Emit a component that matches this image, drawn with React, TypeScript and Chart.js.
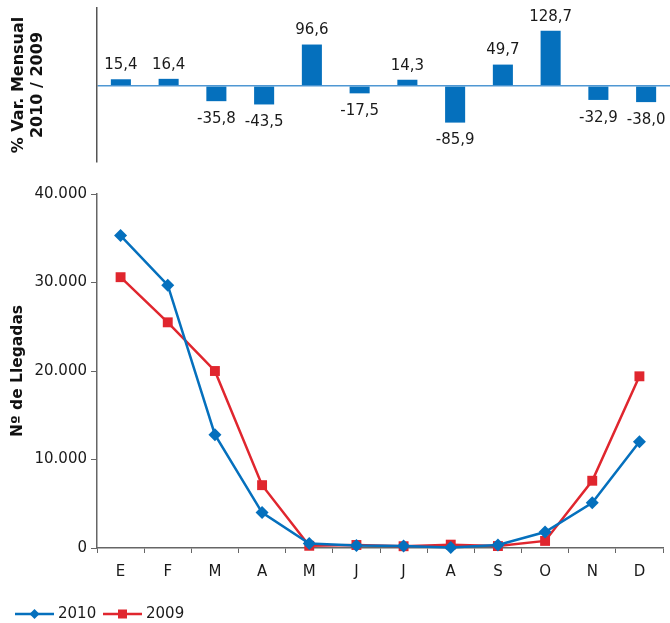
import React, { useEffect, useRef } from "react";
import { Chart, registerables } from "chart.js";

Chart.register(...registerables);

const months = ["E", "F", "M", "A", "M", "J", "J", "A", "S", "O", "N", "D"];
const variation = [15.4, 16.4, -35.8, -43.5, 96.6, -17.5, 14.3, -85.9, 49.7, 128.7, -32.9, -38.0];
const arrivals2010 = [35300, 29700, 12800, 4000, 500, 280, 230, 50, 330, 1800, 5100, 12000];
const arrivals2009 = [30600, 25500, 20000, 7100, 250, 340, 200, 380, 220, 800, 7600, 19400];
const yTicks = [0, 10000, 20000, 30000, 40000];
const seriesNames = ["2010", "2009"];

const BLUE = "#0570bd";
const RED = "#e0262e";
const FONT = "'DejaVu Sans', Verdana, sans-serif";

function fmtNum(v: number): string {
  return Math.round(v).toString().replace(/\B(?=(\d{3})+(?!\d))/g, ".");
}
function fmtPct(v: number): string {
  return v.toFixed(1).replace(".", ",");
}

const barLabelPlugin = {
  id: "barLabels",
  afterDatasetsDraw(chart: any) {
    const ctx = chart.ctx;
    const meta = chart.getDatasetMeta(0);
    ctx.save();
    ctx.font = `15px ${FONT}`;
    ctx.fillStyle = "#1a1a1a";
    ctx.textAlign = "center";
    ctx.textBaseline = "middle";
    meta.data.forEach((el: any, i: number) => {
      const v = variation[i];
      const y = v >= 0 ? el.y - 14 : el.y + 18;
      ctx.fillText(fmtPct(v), el.x, y);
    });
    ctx.restore();
  },
};

const legendPlugin = {
  id: "lineLegend",
  afterDraw(chart: any) {
    const ctx = chart.ctx;
    const y = chart.height - 9;
    const starts = [15, 103];
    ctx.save();
    chart.data.datasets.forEach((ds: any, i: number) => {
      const x0 = starts[i];
      const w = 39;
      const cx = x0 + w / 2;
      ctx.strokeStyle = ds.borderColor;
      ctx.fillStyle = ds.borderColor;
      ctx.lineWidth = 2.5;
      ctx.beginPath();
      ctx.moveTo(x0, y);
      ctx.lineTo(x0 + w, y);
      ctx.stroke();
      ctx.beginPath();
      if (ds.pointStyle === "rectRot") {
        ctx.moveTo(cx, y - 5);
        ctx.lineTo(cx + 5, y);
        ctx.lineTo(cx, y + 5);
        ctx.lineTo(cx - 5, y);
        ctx.closePath();
        ctx.fill();
      } else {
        ctx.fillRect(cx - 4.5, y - 4.5, 9, 9);
      }
      ctx.fillStyle = "#1a1a1a";
      ctx.font = `15px ${FONT}`;
      ctx.textAlign = "left";
      ctx.textBaseline = "middle";
      ctx.fillText(ds.label, x0 + w + 4, y);
    });
    ctx.restore();
  },
};

export default function App() {
  const topRef = useRef<HTMLCanvasElement>(null);
  const botRef = useRef<HTMLCanvasElement>(null);

  useEffect(() => {
    Chart.defaults.font.family = FONT;
    Chart.defaults.color = "#1a1a1a";

    const top = new Chart(topRef.current!, {
      type: "bar",
      data: {
        labels: months,
        datasets: [
          {
            data: variation,
            backgroundColor: BLUE,
            barPercentage: 0.84,
            categoryPercentage: 0.5,
          },
        ],
      },
      options: {
        animation: false,
        responsive: false,
        maintainAspectRatio: false,
        layout: { padding: { top: 8, bottom: 8, left: 0, right: 0 } },
        plugins: { legend: { display: false }, tooltip: { enabled: false } },
        scales: {
          x: { display: false, offset: true },
          y: {
            min: -178,
            max: 182,
            afterBuildTicks: (s: any) => {
              s.ticks = [{ value: -178 }, { value: 0 }, { value: 182 }];
            },
            ticks: { display: false },
            grid: {
              color: (c: any) => (c.tick && c.tick.value === 0 ? "#4f97d3" : "rgba(0,0,0,0)"),
              lineWidth: 1.5,
              drawTicks: false,
            },
            border: { color: "#555", width: 1.5 },
            title: {
              display: true,
              text: ["% Var. Mensual", "2010 / 2009"],
              color: "#111",
              font: { size: 16, weight: "bold", lineHeight: 1.19 },
              padding: { top: 9.5, bottom: 0 },
            },
            afterFit: (s: any) => {
              s.width = 97;
            },
          },
        },
      },
      plugins: [barLabelPlugin],
    } as any);

    const bot = new Chart(botRef.current!, {
      type: "line",
      data: {
        labels: months,
        datasets: [
          {
            label: seriesNames[0],
            data: arrivals2010,
            borderColor: BLUE,
            backgroundColor: BLUE,
            borderWidth: 2.5,
            pointStyle: "rectRot",
            pointRadius: 6.5,
            pointBorderWidth: 0,
            clip: false,
            tension: 0,
          },
          {
            label: seriesNames[1],
            data: arrivals2009,
            borderColor: RED,
            backgroundColor: RED,
            borderWidth: 2.5,
            pointStyle: "rect",
            pointRadius: 7,
            pointBorderWidth: 0,
            clip: false,
            tension: 0,
          },
        ],
      },
      options: {
        animation: false,
        responsive: false,
        maintainAspectRatio: false,
        layout: { padding: { top: 24, left: 0, right: 0, bottom: 0 } },
        plugins: {
          tooltip: { enabled: false },
          legend: { display: false },
        },
        scales: {
          x: {
            offset: true,
            grid: {
              offset: true,
              drawOnChartArea: false,
              drawTicks: true,
              tickLength: 5,
              color: "#666",
            },
            border: { color: "#666", width: 1.5 },
            ticks: { font: { size: 15 }, padding: 10, color: "#1a1a1a", maxRotation: 0, autoSkip: false },
            afterFit: (s: any) => {
              s.height = 75;
            },
          },
          y: {
            min: 0,
            max: 40000,
            afterBuildTicks: (s: any) => {
              s.ticks = yTicks.map((v) => ({ value: v }));
            },
            ticks: {
              font: { size: 15 },
              color: "#1a1a1a",
              padding: 4,
              callback: (v: any) => fmtNum(Number(v)),
            },
            grid: { drawOnChartArea: false, drawTicks: true, tickLength: 6, color: "#666" },
            border: { color: "#666", width: 1.5 },
            title: {
              display: true,
              text: "Nº de Llegadas",
              color: "#111",
              font: { size: 15.5, weight: "bold", lineHeight: 1.2 },
              padding: { top: 9, bottom: 0 },
            },
            afterFit: (s: any) => {
              s.width = 97;
            },
          },
        },
      },
      plugins: [legendPlugin],
    } as any);

    return () => {
      top.destroy();
      bot.destroy();
    };
  }, []);

  return (
    <div style={{ position: "absolute", left: 0, top: 0, width: 670, height: 623, background: "#fff" }}>
      <canvas ref={topRef} width={670} height={170} style={{ position: "absolute", left: 0, top: 0 }} />
      <canvas ref={botRef} width={670} height={453} style={{ position: "absolute", left: 0, top: 170 }} />
    </div>
  );
}
